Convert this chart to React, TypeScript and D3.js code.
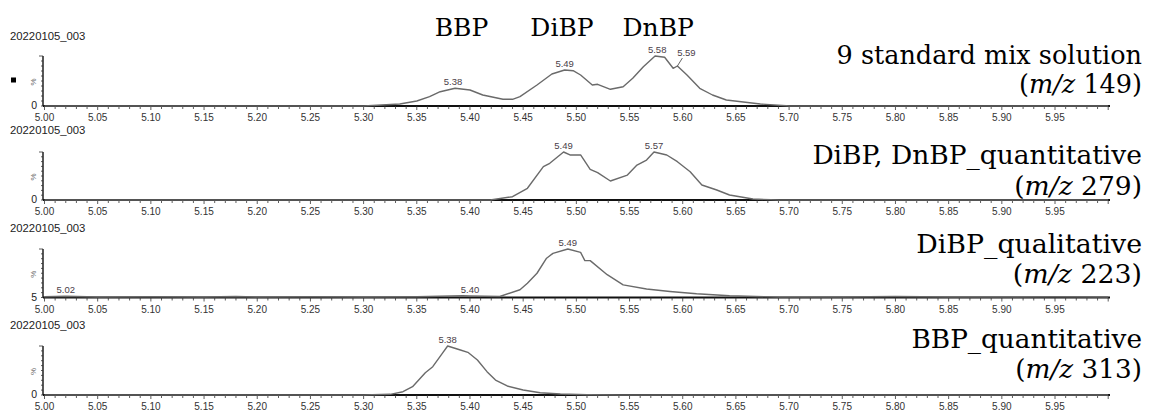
import React from "react";
import * as d3 from "d3";

// ---------- data ----------
const sampleLabel = "20220105_003";
const xMajorTicks = [5.0, 5.05, 5.1, 5.15, 5.2, 5.25, 5.3, 5.35, 5.4, 5.45, 5.5, 5.55, 5.6, 5.65, 5.7, 5.75, 5.8, 5.85, 5.9, 5.95];
const xTickLabels = xMajorTicks.map((t) => t.toFixed(2));

const compoundNames = ["BBP", "DiBP", "DnBP"];
const compoundTimes = [5.392, 5.4865, 5.577];

const panelTitles = ["9 standard mix solution", "DiBP, DnBP_quantitative", "DiBP_qualitative", "BBP_quantitative"];
const panelMz = ["149", "279", "223", "313"];
const yBottomLabels = ["0", "0", "5", "0"];

// panel 1 : m/z 149
const times1 = [5.0, 5.3, 5.334, 5.35, 5.362, 5.372, 5.386, 5.4, 5.412, 5.431, 5.44, 5.447, 5.463, 5.477, 5.489, 5.497, 5.504, 5.515, 5.52, 5.532, 5.544, 5.553, 5.563, 5.574, 5.583, 5.591, 5.595, 5.604, 5.616, 5.628, 5.641, 5.673, 5.701, 6.0];
const values1 = [0, 0, 4, 10, 18.6, 28.6, 35.4, 32, 22, 13.4, 13.4, 18.6, 42, 64, 72, 70.6, 62, 42, 43.4, 33.4, 38.6, 55.4, 78.6, 100, 97.4, 75.4, 80, 62, 35.4, 22, 12, 4, 0, 0];
const peakTimes1 = [5.384, 5.489, 5.576, 5.595];
const peakValues1 = [35.4, 72, 100, 80];
const peakLabels1 = ["5.38", "5.49", "5.58", "5.59"];

// panel 2 : m/z 279
const times2 = [5.0, 5.419, 5.44, 5.454, 5.469, 5.475, 5.488, 5.494, 5.504, 5.513, 5.52, 5.532, 5.548, 5.557, 5.566, 5.573, 5.585, 5.595, 5.607, 5.618, 5.632, 5.644, 5.666, 5.691, 6.0];
const values2 = [0, 0, 6.9, 24.4, 69.4, 76.5, 100, 93.8, 93.8, 63.9, 56.9, 39.6, 52, 72.9, 83.3, 100, 93.8, 79.8, 59, 31.3, 20.8, 10.4, 2, 0, 0];
const peakTimes2 = [5.488, 5.573];
const peakValues2 = [100, 100];
const peakLabels2 = ["5.49", "5.57"];

// panel 3 : m/z 223
const times3 = [5.0, 5.02, 5.05, 5.1, 5.15, 5.18, 5.2, 5.25, 5.3, 5.35, 5.393, 5.4, 5.428, 5.447, 5.454, 5.463, 5.472, 5.478, 5.492, 5.504, 5.508, 5.513, 5.529, 5.544, 5.566, 5.588, 5.613, 5.644, 5.691, 5.75, 5.8, 5.85, 5.9, 5.95, 6.0];
const values3 = [1.5, 2.5, 1, 1.5, 1, 2, 1, 1.5, 1, 1.5, 3.5, 3, 2, 16, 29.5, 50, 81, 91, 100, 93, 76, 76, 47, 26, 17.5, 12.4, 7.6, 3.5, 0.8, 1, 2, 1, 1, 1.5, 1];
const peakTimes3 = [5.02, 5.4, 5.492];
const peakValues3 = [2.5, 3.5, 100];
const peakLabels3 = ["5.02", "5.40", "5.49"];

// panel 4 : m/z 313
const times4 = [5.0, 5.3, 5.325, 5.337, 5.346, 5.358, 5.365, 5.374, 5.379, 5.391, 5.398, 5.407, 5.416, 5.424, 5.435, 5.45, 5.466, 5.485, 5.51, 5.541, 6.0];
const values4 = [0, 0, 1.4, 6.7, 16.9, 45.5, 57.8, 85, 100, 91.8, 87.1, 71.4, 47.6, 30.6, 18.4, 10.2, 4.7, 2, 0.6, 0, 0];
const peakTimes4 = [5.379];
const peakValues4 = [100];
const peakLabels4 = ["5.38"];

const panelsData = [
  { times: times1, values: values1, pt: peakTimes1, pv: peakValues1, pl: peakLabels1 },
  { times: times2, values: values2, pt: peakTimes2, pv: peakValues2, pl: peakLabels2 },
  { times: times3, values: values3, pt: peakTimes3, pv: peakValues3, pl: peakLabels3 },
  { times: times4, values: values4, pt: peakTimes4, pv: peakValues4, pl: peakLabels4 },
];

// ---------- layout ----------
const W = 1149;
const H = 414;
const baselines = [106, 200, 297.5, 395];
const axisHeights = [50, 48, 48.5, 49];
const titleBaselines = [[64, 93], [164, 195], [253, 283], [348, 378]];
const titleSizes = [25.5, 26.5, 26.8, 26.3];
const AXIS_X = 43;
const AXIS_END = 1110;
const RIGHT_X = 1142;

const xScale = d3.scaleLinear().domain([5, 6]).range([44.5, 1108.2]);
const minorTicks = d3.range(0, 101).map((i) => 5 + i / 100);

const sansFont = "'Liberation Sans', Arial, sans-serif";
const serifFont = "'DejaVu Serif', serif";

function Panel({ idx }: { idx: number }) {
  const base = baselines[idx];
  const h = axisHeights[idx];
  const y = d3.scaleLinear().domain([0, 100]).range([base, base - h]);
  const d = panelsData[idx];
  const line = d3
    .line<number>()
    .x((_, i) => xScale(d.times[i]))
    .y((v) => y(v));
  const path = line(d.values) || "";
  const yTicks = d3.range(0, 11).map((i) => i * 10);
  const [tb1, tb2] = titleBaselines[idx];
  const fs = titleSizes[idx];
  return (
    <g>
      <text x={10} y={base - 66} fontFamily={sansFont} fontSize={11.3} fill="#222">
        {sampleLabel}
      </text>
      {/* y axis */}
      <line x1={AXIS_X} x2={AXIS_X} y1={y(100)} y2={base} stroke="#111" strokeWidth={1.4} />
      {yTicks.map((t) => (
        <line key={t} x1={AXIS_X - (t === 100 ? 4 : 2)} x2={AXIS_X} y1={y(t)} y2={y(t)} stroke="#333" strokeWidth={0.8} />
      ))}
      <text
        x={0}
        y={0}
        transform={`translate(${AXIS_X - 7},${y(48)}) rotate(-90)`}
        textAnchor="middle"
        fontFamily={sansFont}
        fontSize={8}
        fill="#666"
      >
        %
      </text>
      <text x={AXIS_X - 6} y={base + 3} textAnchor="end" fontFamily={sansFont} fontSize={10.5} fill="#222">
        {yBottomLabels[idx]}
      </text>
      {idx === 0 && <rect x={11} y={y(52) - 2.5} width={5} height={5} fill="#000" />}
      {/* x axis */}
      <line x1={AXIS_X} x2={AXIS_END} y1={base} y2={base} stroke="#111" strokeWidth={1.8} />
      {minorTicks.map((t, i) => (
        <line key={i} x1={xScale(t)} x2={xScale(t)} y1={base} y2={base + (i % 5 === 0 ? 4 : 3)} stroke="#333" strokeWidth={0.8} />
      ))}
      {xMajorTicks.map((t, i) => (
        <text key={i} x={xScale(t)} y={base + 15} textAnchor="middle" fontFamily={sansFont} fontSize={10} fill="#333">
          {xTickLabels[i]}
        </text>
      ))}
      {/* trace */}
      <path d={path} fill="none" stroke="#6a6a6a" strokeWidth={1.4} strokeLinejoin="round" />
      {d.pl.map((lab, i) => {
        const px = xScale(d.pt[i]);
        const py = y(d.pv[i]);
        const special = idx === 0 && lab === "5.59";
        return (
          <g key={i}>
            {special && <line x1={px} y1={py} x2={px + 5} y2={py - 8} stroke="#666" strokeWidth={1} />}
            <text
              x={special ? px + 9 : px}
              y={special ? py - 10 : py - 3}
              textAnchor="middle"
              fontFamily={sansFont}
              fontSize={9.5}
              fill="#4a4048"
            >
              {lab}
            </text>
          </g>
        );
      })}
      {/* titles */}
      <text x={RIGHT_X} y={tb1} textAnchor="end" fontFamily={serifFont} fontSize={fs} fill="#000">
        {panelTitles[idx]}
      </text>
      <text x={RIGHT_X} y={tb2} textAnchor="end" fontFamily={serifFont} fontSize={fs} fill="#000">
        (<tspan fontStyle="italic">m/z</tspan> {panelMz[idx]})
      </text>
    </g>
  );
}

export default function App() {
  return (
    <svg width={W} height={H} viewBox={`0 0 ${W} ${H}`} style={{ position: "absolute", left: 0, top: 0, background: "#fff" }}>
      <rect x={0} y={0} width={W} height={H} fill="#fff" />
      {compoundNames.map((n, i) => (
        <text key={n} x={xScale(compoundTimes[i])} y={36} textAnchor="middle" fontFamily={serifFont} fontSize={25} fill="#000">
          {n}
        </text>
      ))}
      {[0, 1, 2, 3].map((i) => (
        <Panel key={i} idx={i} />
      ))}
    </svg>
  );
}
